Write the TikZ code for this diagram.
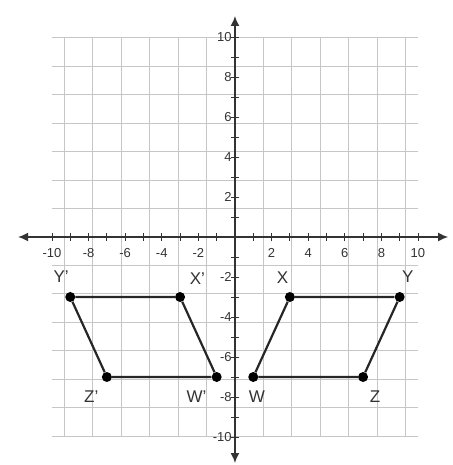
\documentclass[tikz,border=0pt]{standalone}
\usepackage{fontspec}
\setmainfont{Liberation Sans}
\usepackage{tikz}
\usetikzlibrary{positioning,arrows.meta}

\begin{document}
\begin{tikzpicture}[
  x=18.3pt, y=20pt,
  gridln/.style={gray!45,line width=0.9pt},
  axisln/.style={{Latex[length=10pt,width=9pt]}-{Latex[length=10pt,width=9pt]},line width=1.5pt,black!80},
  tck/.style={line width=0.9pt,black!80},
  num/.style={font=\fontsize{13}{15}\selectfont,text=black!80,inner sep=1pt},
  pt/.style={circle,fill=black,inner sep=0pt,minimum size=10pt},
  lbl/.style={font=\fontsize{17}{19}\selectfont,text=black!80,inner sep=1pt},
  side/.style={line width=2.2pt,black!85}
]
\useasboundingbox (-12.84,-11.4) rectangle (11.91,11.85);
% grid
\draw[gridln] (-10,-10) grid (10,10);
% axes
\coordinate (xl) at (-11.85,0);
\coordinate (xr) at (11.65,0);
\coordinate (yt) at (0,11.05);
\coordinate (yb) at (0,-11.3);
\draw[axisln] (xl) -- (xr);
\draw[axisln] (yb) -- (yt);
\foreach \i in {-10,...,10} {
  \draw[tck] (\i,-0.18) -- (\i,0.18);
  \draw[tck] (-0.2,\i) -- (0.2,\i);
}
\foreach \i in {-10,-8,-6,-4,-2,2,4,6,8,10} {
  \node[num] (nx\i) at (\i,-0.8) {\i};
  \node[num,anchor=east] (ny\i) at (-0.12,\i) {\i};
}
% parallelogram WXYZ
\node[pt] (X) at (3,-3) {};
\node[pt] (Y) at (9,-3) {};
\node[pt] (Z) at (7,-7) {};
\node[pt] (W) at (1,-7) {};
\draw[side] (X) -- (Y) -- (Z) -- (W) -- (X);
% image W'X'Y'Z'
\node[pt] (X1) at (-3,-3) {};
\node[pt] (Y1) at (-9,-3) {};
\node[pt] (Z1) at (-7,-7) {};
\node[pt] (W1) at (-1,-7) {};
\draw[side] (X1) -- (Y1) -- (Z1) -- (W1) -- (X1);
% labels
\node[lbl] (lX) at (2.6,-2.05) {X};
\node[lbl] (lY) at (9.45,-2.0) {Y};
\node[lbl] (lZ) at (7.65,-8.0) {Z};
\node[lbl] (lW) at (1.2,-8.0) {W};
\node[lbl] (lX1) at (-2.05,-2.1) {X'};
\node[lbl] (lY1) at (-9.5,-2.0) {Y'};
\node[lbl] (lZ1) at (-7.85,-8.0) {Z'};
\node[lbl] (lW1) at (-2.1,-8.0) {W'};
\end{tikzpicture}
\end{document}
